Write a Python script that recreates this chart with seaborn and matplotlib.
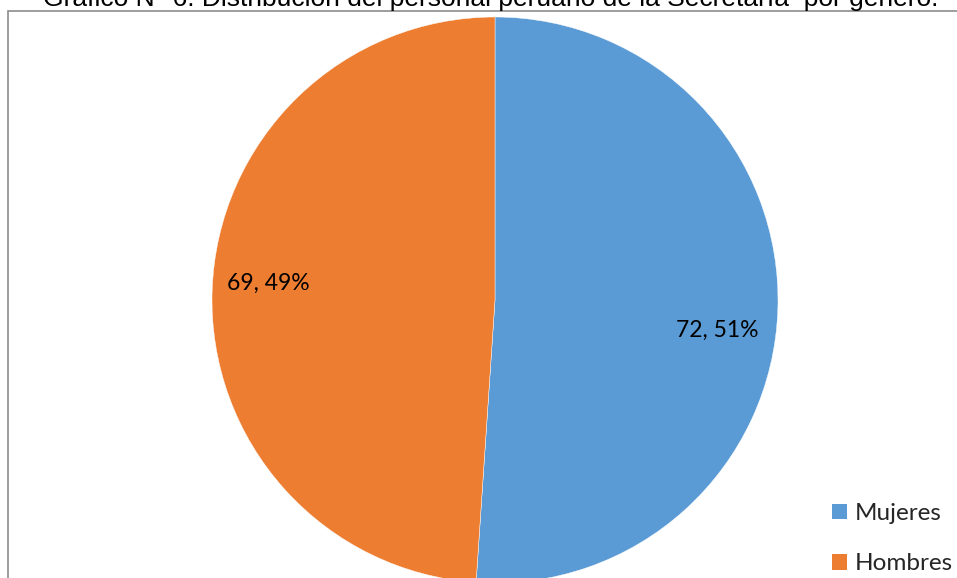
import matplotlib
matplotlib.use("Agg")
import matplotlib.pyplot as plt
import seaborn as sns
from matplotlib.patches import Rectangle

categories = ["Mujeres", "Hombres"]
values = [72, 69]
colors = ["#5B9BD5", "#ED7D31"]
title = "Gráfico N° 6: Distribución del personal peruano de la Secretaría  por género."

sns.set_theme(style="white")
plt.rcParams['font.family'] = ['Liberation Sans', 'DejaVu Sans']

W, H = 957, 578
fig = plt.figure(figsize=(W / 100, H / 100), dpi=100)
fig.patch.set_facecolor("white")

# chart border
fig.patches.append(Rectangle((8 / W, -0.05), 1.0, (H - 11) / H + 0.05,
                             transform=fig.transFigure, fill=False,
                             edgecolor="#8c8c8c", linewidth=1.2))

fig.text(491 / W, 1 - 6 / H, title, ha="center", va="baseline",
         fontsize=19, color="black", family=['Liberation Sans', 'DejaVu Sans'])

cx, cy, r = 495, 300, 283
ax = fig.add_axes([(cx - r) / W, (H - cy - r) / H, 2 * r / W, 2 * r / H])
total = sum(values)
wedges, texts, autotexts = ax.pie(
    values, colors=colors, startangle=90, counterclock=False,
    autopct=lambda p: f"{round(p * total / 100)}, {round(p)}%",
    pctdistance=0.8,
    wedgeprops=dict(edgecolor="white", linewidth=0.3),
    textprops=dict(fontsize=16.5, color="black", family=['Lato', 'DejaVu Sans']))
# data-label placement (Excel best-fit style)
label_pos = [(0.784, -0.106), (-0.802, 0.06)]
for t, p in zip(autotexts, label_pos):
    t.set_position(p)
ax.set_xlim(-1, 1)
ax.set_ylim(-1, 1)
ax.axis("off")

leg = fig.legend(wedges, categories, loc="upper left",
                 bbox_to_anchor=(820 / W, 1 - 491 / H), frameon=False,
                 prop=dict(family=['Lato', 'DejaVu Sans'], size=17.5),
                 handlelength=0.62, handleheight=0.62, handletextpad=0.3,
                 labelspacing=1.2, borderpad=0)
for h in leg.legend_handles:
    h.set_edgecolor("none")

fig.savefig("out.png", dpi=100)
